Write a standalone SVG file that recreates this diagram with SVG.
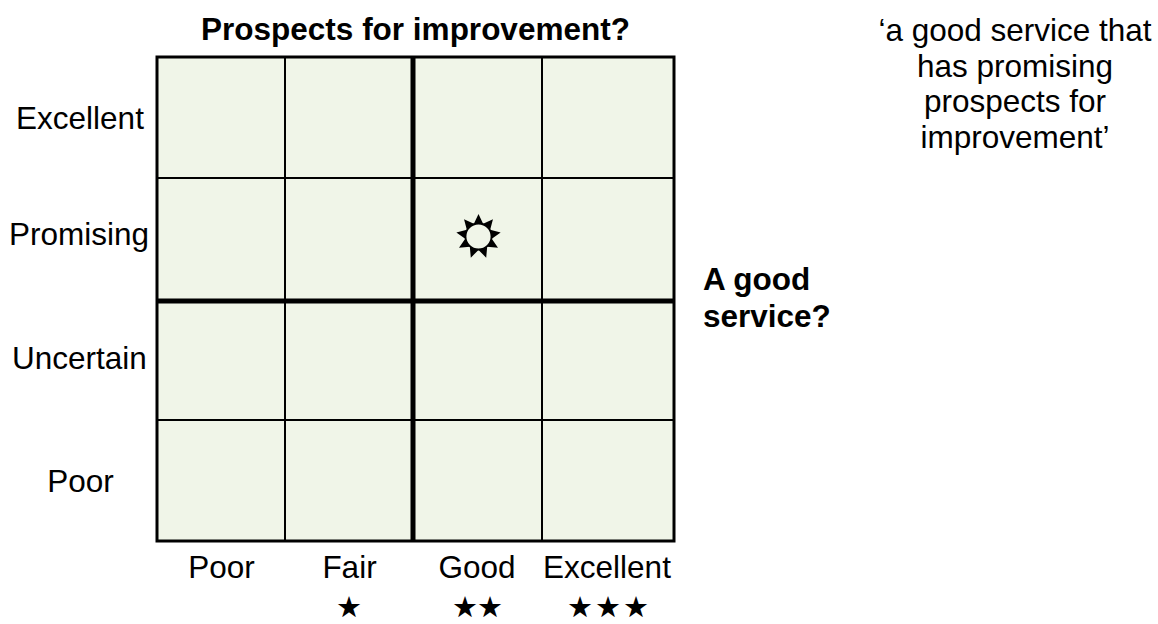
<svg xmlns="http://www.w3.org/2000/svg" width="1158" height="624" viewBox="0 0 1158 624">
  <style>
    .lbl { font-family: "Liberation Sans", Arial, sans-serif; font-size: 31.5px; fill: #000; }
    .b { font-weight: bold; }
    .mid { text-anchor: middle; }
    .thin { stroke: #000; stroke-width: 2; fill: none; }
    .thick { stroke: #000; stroke-width: 5; fill: none; }
    .star { font-family: "DejaVu Sans", sans-serif; font-size: 29px; fill: #000; text-anchor: middle; }
  </style>
  <rect width="1158" height="624" fill="#fff"/>

  <g id="grid">
    <rect x="157" y="57" width="517" height="484" fill="#F0F5E8" stroke="none"/>
    <line class="thin" x1="285" y1="57" x2="285" y2="541"/>
    <line class="thin" x1="542" y1="57" x2="542" y2="541"/>
    <line class="thin" x1="157" y1="178" x2="674" y2="178"/>
    <line class="thin" x1="157" y1="420" x2="674" y2="420"/>
    <line class="thick" x1="413" y1="57" x2="413" y2="541"/>
    <line class="thick" x1="157" y1="301" x2="674" y2="301"/>
    <rect x="157" y="57" width="517" height="484" fill="none" stroke="#000" stroke-width="3"/>
  </g>

  <g id="marker-sun">
    <polygon fill="#000" points="478.5,214.0 473.88,223.81 464.04,219.26 466.81,229.75 456.34,232.59 465.20,238.84 459.01,247.75 469.82,246.84 470.80,257.64 478.5,250.0 486.20,257.64 487.18,246.84 497.99,247.75 491.80,238.84 500.66,232.59 490.19,229.75 492.96,219.26 483.12,223.81"/>
    <circle cx="478.5" cy="236.5" r="13" fill="#F0F5E8" stroke="#000" stroke-width="1.8"/>
  </g>

  <g id="title">
    <text class="lbl b mid" x="415.5" y="40">Prospects for improvement?</text>
  </g>

  <g id="row-labels">
    <text class="lbl mid" x="80" y="129">Excellent</text>
    <text class="lbl mid" x="79" y="245">Promising</text>
    <text class="lbl mid" x="79.5" y="369">Uncertain</text>
    <text class="lbl mid" x="80.5" y="492">Poor</text>
  </g>

  <g id="col-labels">
    <text class="lbl mid" x="221.5" y="578">Poor</text>
    <text class="lbl mid" x="349.5" y="578">Fair</text>
    <text class="lbl mid" x="477" y="578">Good</text>
    <text class="lbl mid" x="607" y="578">Excellent</text>
  </g>

  <g id="stars">
    <text class="star" x="349" y="617">★</text>
    <text class="star" x="465 490" y="617">★★</text>
    <text class="star" x="580 608 636" y="617">★★★</text>
  </g>

  <g id="axis-label">
    <text class="lbl b" x="703" y="290">A good</text>
    <text class="lbl b" x="703" y="327">service?</text>
  </g>

  <g id="quote">
    <text class="lbl mid" x="1015" y="41">‘a good service that</text>
    <text class="lbl mid" x="1015" y="76.5">has promising</text>
    <text class="lbl mid" x="1015" y="112">prospects for</text>
    <text class="lbl mid" x="1015" y="147.5">improvement’</text>
  </g>
</svg>
